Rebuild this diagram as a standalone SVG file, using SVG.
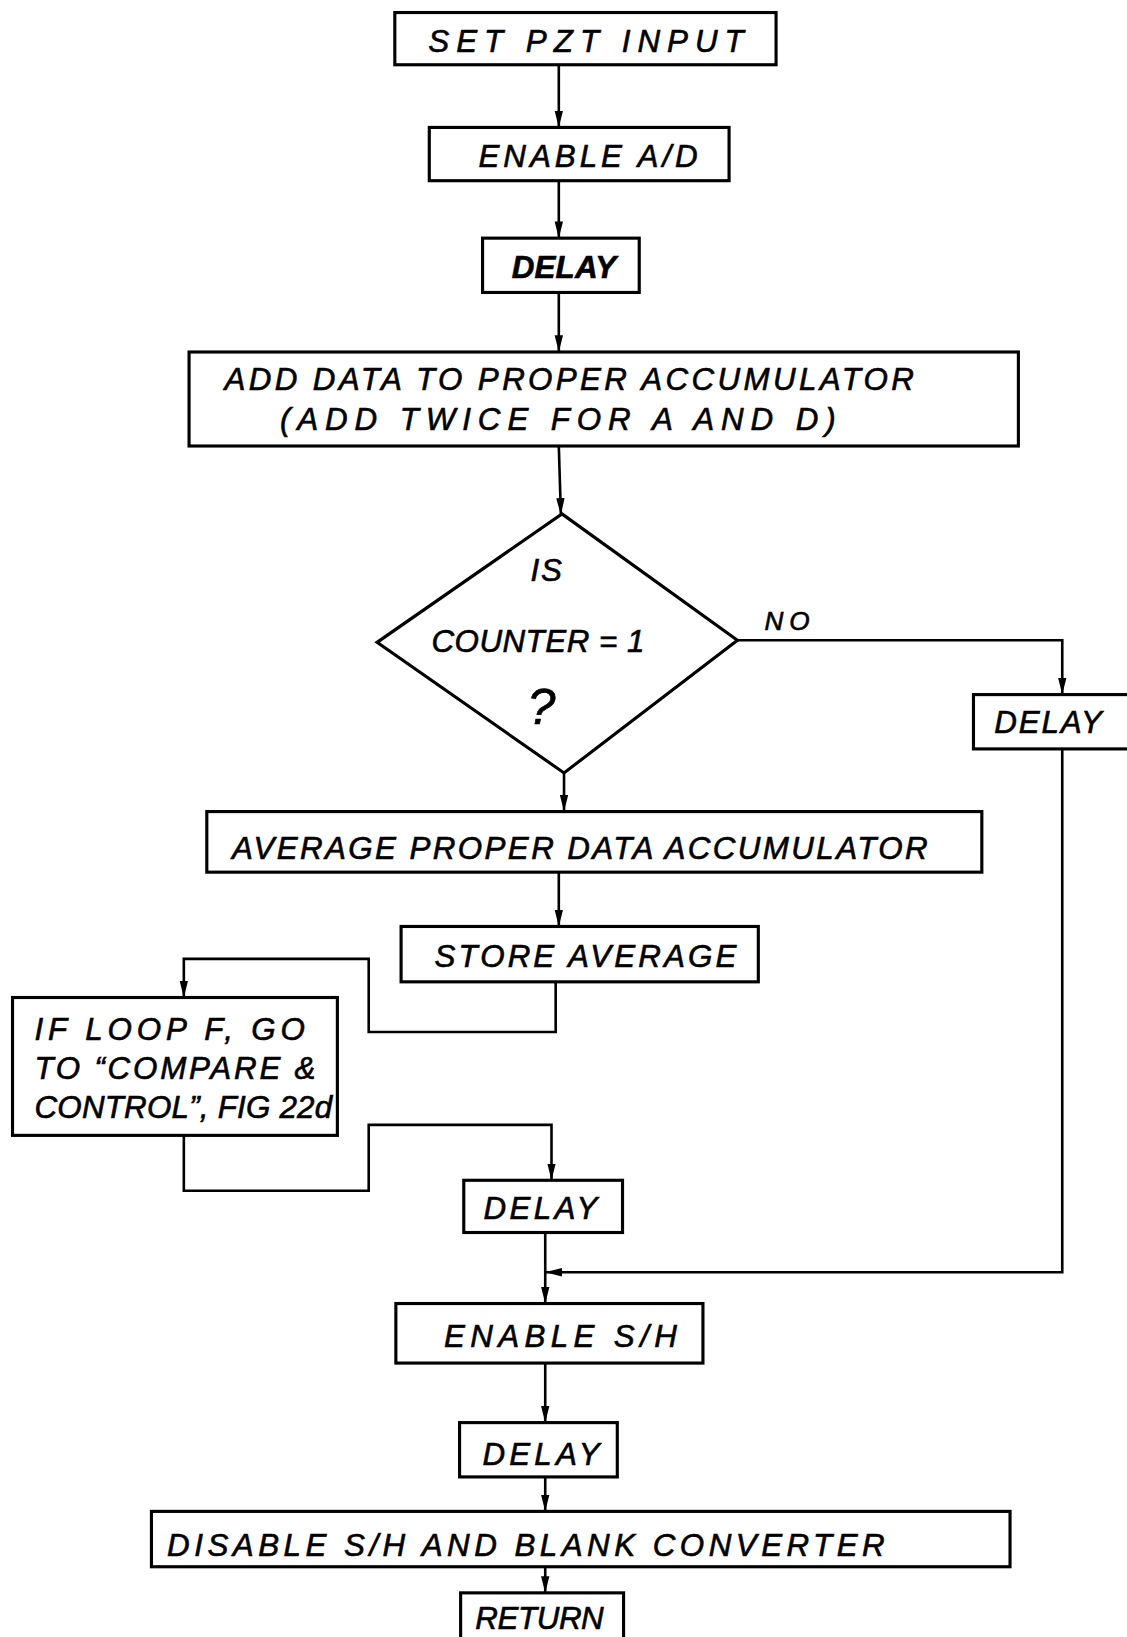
<svg xmlns="http://www.w3.org/2000/svg" width="1127" height="1637" viewBox="0 0 1127 1637">
<defs>
<marker id="arrL" viewBox="0 0 16 10" refX="16" refY="5" markerWidth="16" markerHeight="10" markerUnits="userSpaceOnUse" orient="auto">
<path d="M0,1 L16,5 L0,9 z" fill="#000"/>
</marker>
</defs>
<style>
.box{fill:#fff;stroke:#000;stroke-width:3}
.t{font-family:"Liberation Sans",Arial,sans-serif;font-style:italic;font-size:30px;fill:#000;stroke:#000;stroke-width:0.6}
.c{fill:none;stroke:#000;stroke-width:2.5}
</style>
<rect width="1127" height="1637" fill="#fff"/>
<g transform="scale(1.0445)">
<g id="connectors">
<line class="c" x1="535" y1="62" x2="535" y2="122" marker-end="url(#arrL)"/>
<line class="c" x1="535" y1="173" x2="535" y2="228" marker-end="url(#arrL)"/>
<line class="c" x1="535" y1="280" x2="535" y2="337" marker-end="url(#arrL)"/>
<line class="c" x1="535" y1="427" x2="537" y2="493" marker-end="url(#arrL)"/>
<polyline class="c" points="706,613 1017,613 1017,665" marker-end="url(#arrL)"/>
<polyline class="c" points="1017,717 1017,1218 522,1218" marker-end="url(#arrL)"/>
<line class="c" x1="540" y1="740" x2="540" y2="777" marker-end="url(#arrL)"/>
<line class="c" x1="535" y1="835" x2="535" y2="887" marker-end="url(#arrL)"/>
<polyline class="c" points="532,940 532,988 353,988 353,918 176,918 176,955" marker-end="url(#arrL)"/>
<polyline class="c" points="176,1087 176,1140 353,1140 353,1077 528,1077 528,1130" marker-end="url(#arrL)"/>
<line class="c" x1="522" y1="1180" x2="522" y2="1248" marker-end="url(#arrL)"/>
<line class="c" x1="522" y1="1305" x2="522" y2="1362" marker-end="url(#arrL)"/>
<line class="c" x1="522" y1="1414" x2="522" y2="1447" marker-end="url(#arrL)"/>
<line class="c" x1="522" y1="1500" x2="522" y2="1525" marker-end="url(#arrL)"/>
</g>
<g id="n1"><rect class="box" x="378" y="12" width="365" height="50"/><text class="t" x="410" y="50" textLength="302" lengthAdjust="spacing">SET  PZT INPUT</text></g>
<g id="n2"><rect class="box" x="411" y="122" width="287" height="51"/><text class="t" x="458" y="160" textLength="210" lengthAdjust="spacing">ENABLE  A/D</text></g>
<g id="n3"><rect class="box" x="462" y="228" width="150" height="52"/><text class="t" x="490" y="266" textLength="100" lengthAdjust="spacing" style="font-weight:bold">DELAY</text></g>
<g id="n4"><rect class="box" x="181" y="337" width="794" height="90"/><text class="t" x="215" y="373" textLength="660" lengthAdjust="spacing">ADD DATA TO PROPER ACCUMULATOR</text><text class="t" x="268" y="412" textLength="532" lengthAdjust="spacing">(ADD TWICE  FOR  A  AND  D)</text></g>
<g id="n5"><polygon class="box" points="538,492 706,613 540,740 361,615"/><text class="t" x="508" y="556" textLength="30" lengthAdjust="spacing">IS</text><text class="t" x="413" y="624" textLength="204" lengthAdjust="spacing">COUNTER = 1</text><text class="t" x="505" y="693" style="font-size:48px">?</text></g>
<g id="lblNo"><text class="t" x="732" y="603" textLength="43" lengthAdjust="spacing" style="font-size:25px">NO</text></g>
<g id="n6"><rect class="box" x="932" y="665" width="150" height="52"/><text class="t" x="952" y="702" textLength="103" lengthAdjust="spacing">DELAY</text></g>
<g id="n7"><rect class="box" x="198" y="777" width="742" height="58"/><text class="t" x="222" y="822" textLength="666" lengthAdjust="spacing">AVERAGE PROPER DATA ACCUMULATOR</text></g>
<g id="n8"><rect class="box" x="384" y="887" width="342" height="53"/><text class="t" x="416" y="926" textLength="289" lengthAdjust="spacing">STORE  AVERAGE</text></g>
<g id="n9"><rect class="box" x="12" y="955" width="311" height="132"/><text class="t" x="33" y="996" textLength="259" lengthAdjust="spacing">IF LOOP F, GO</text><text class="t" x="33" y="1033" textLength="269" lengthAdjust="spacing">TO “COMPARE &amp;</text><text class="t" x="33" y="1070" textLength="285" lengthAdjust="spacing">CONTROL”, FIG 22d</text></g>
<g id="n10"><rect class="box" x="444" y="1130" width="152" height="50"/><text class="t" x="463" y="1167" textLength="109" lengthAdjust="spacing">DELAY</text></g>
<g id="n11"><rect class="box" x="379" y="1248" width="294" height="57"/><text class="t" x="425" y="1290" textLength="223" lengthAdjust="spacing">ENABLE  S/H</text></g>
<g id="n12"><rect class="box" x="440" y="1362" width="151" height="52"/><text class="t" x="462" y="1403" textLength="112" lengthAdjust="spacing">DELAY</text></g>
<g id="n13"><rect class="box" x="145" y="1447" width="822" height="53"/><text class="t" x="160" y="1490" textLength="687" lengthAdjust="spacing">DISABLE  S/H  AND  BLANK  CONVERTER</text></g>
<g id="n14"><rect class="box" x="441" y="1525" width="156" height="45"/><text class="t" x="455" y="1560" textLength="123" lengthAdjust="spacing">RETURN</text></g>
</g>
</svg>
